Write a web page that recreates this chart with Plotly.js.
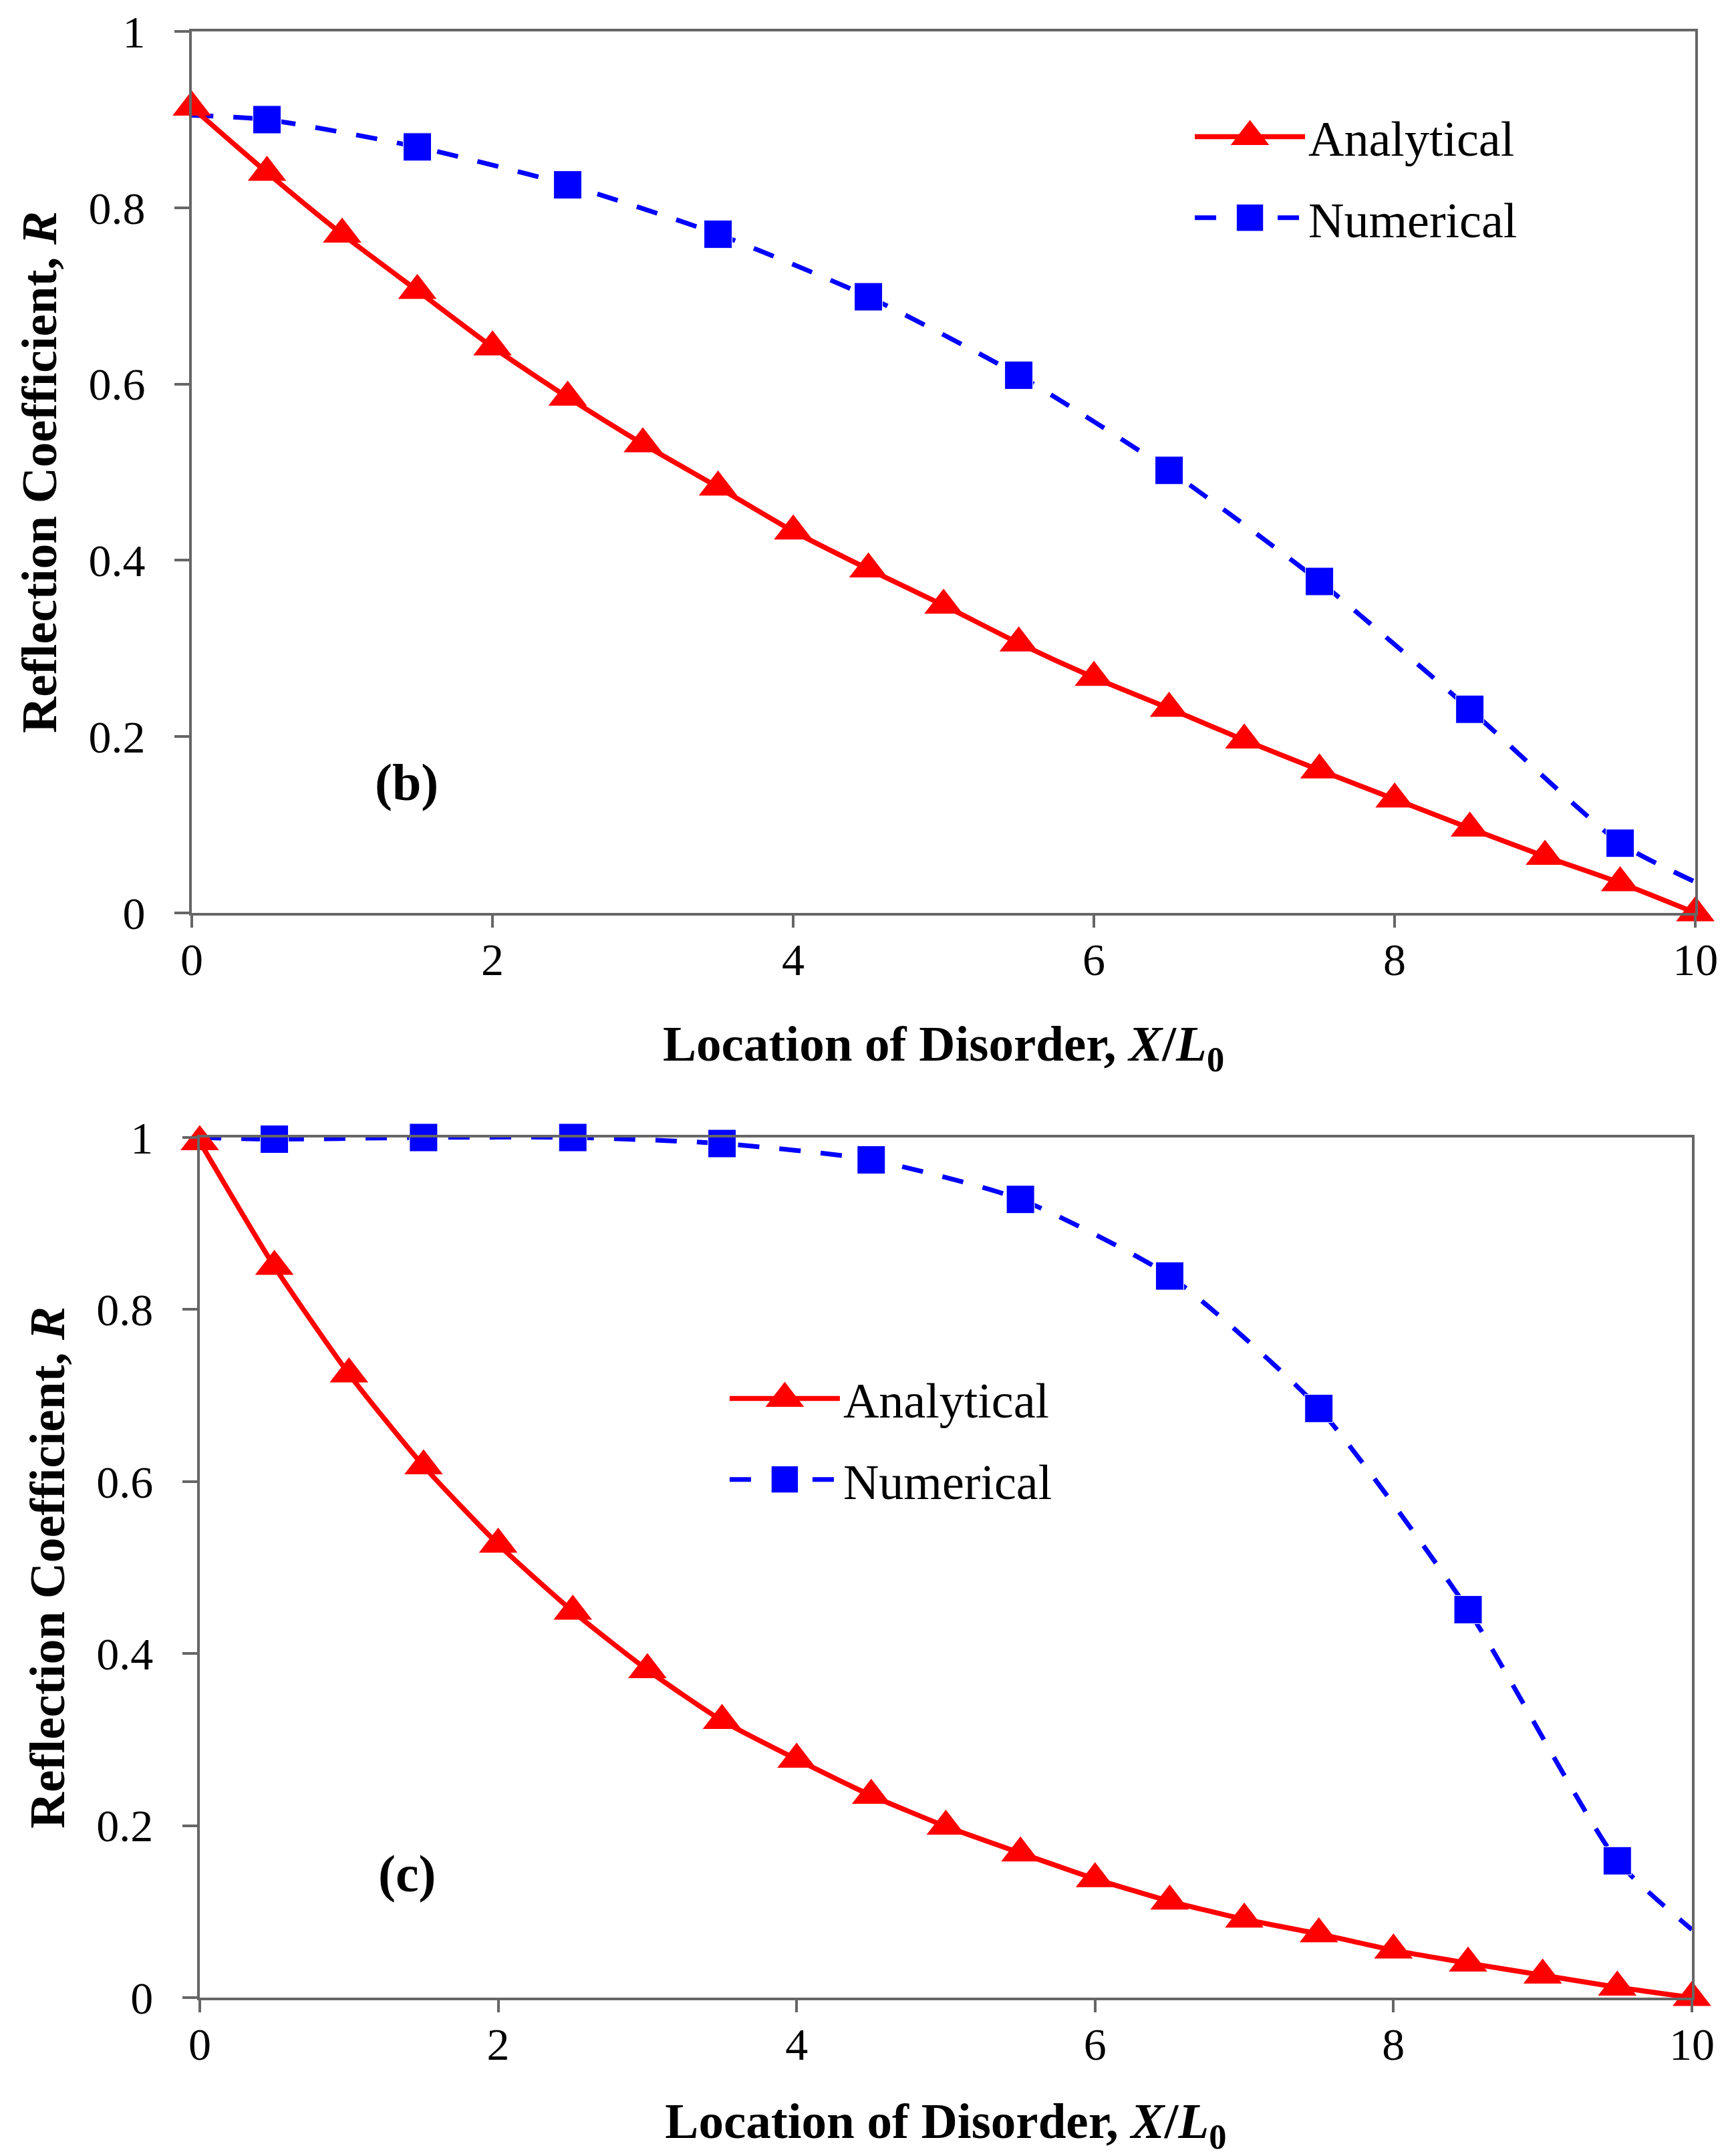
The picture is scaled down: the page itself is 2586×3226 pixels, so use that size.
<!DOCTYPE html>
<html>
<head>
<meta charset="utf-8">
<script src="https://cdn.plot.ly/plotly-3.0.1.min.js"></script>
<style>
  html, body { margin: 0; padding: 0; background: #fff; }
  #chart { width: 2586px; height: 3226px; }
</style>
</head>
<body>
<div id="chart"></div>
<script>
// x positions of the analytical curve
var x_analytical = [0, 0.5, 1, 1.5, 2, 2.5, 3, 3.5, 4, 4.5, 5, 5.5, 6, 6.5, 7, 7.5, 8, 8.5, 9, 9.5, 10];
// x positions of the numerical curve (end points carry the line only)
var x_numerical = [0, 0.5, 1.5, 2.5, 3.5, 4.5, 5.5, 6.5, 7.5, 8.5, 9.5, 10];

// panel (b)
var b_analytical = [0.914, 0.840, 0.770, 0.706, 0.642, 0.585, 0.532, 0.483, 0.433, 0.390, 0.349,
                    0.306, 0.267, 0.232, 0.196, 0.162, 0.129, 0.096, 0.064, 0.034, 0.0];
var b_numerical = [0.905, 0.900, 0.869, 0.826, 0.770, 0.699, 0.610, 0.502, 0.376, 0.231, 0.079, 0.035];

// panel (c)
var c_analytical = [0.995, 0.850, 0.725, 0.618, 0.527, 0.449, 0.381, 0.322, 0.277, 0.235, 0.199,
                    0.168, 0.138, 0.112, 0.091, 0.074, 0.055, 0.040, 0.026, 0.012, 0.0];
var c_numerical = [1.0, 0.998, 1.0, 1.0, 0.993, 0.974, 0.928, 0.839, 0.685, 0.451, 0.159, 0.079];

var x_ticks = [0, 2, 4, 6, 8, 10];
var y_ticks = [0, 0.2, 0.4, 0.6, 0.8, 1];
var series_names = ["Analytical", "Numerical"];
var panel_labels = ["(b)", "(c)"];

var serif = "Liberation Serif, Times New Roman, serif";
var tri_size = 50;
var sq_size = 42;

// squares only on the half points, not on the line end points
var sq_sizes = x_numerical.map(function(x, i){
    return (i === 0 || i === x_numerical.length - 1) ? 0 : sq_size;
});

function analyticalTrace(y, xa, ya, leg) {
    return {
        x: x_analytical, y: y, xaxis: xa, yaxis: ya,
        type: "scatter", mode: "lines+markers",
        name: series_names[0], legend: leg, legendgroup: leg + "a", legendrank: 1,
        line: {color: "#ff0000", width: 7.5, shape: "spline", smoothing: 0.6},
        marker: {symbol: "triangle-up", size: tri_size, color: "#ff0000", opacity: 1},
        cliponaxis: false
    };
}

function numericalTrace(y, xa, ya, leg) {
    return {
        x: x_numerical, y: y, xaxis: xa, yaxis: ya,
        type: "scatter", mode: "lines+markers",
        name: series_names[1], legend: leg, legendgroup: leg + "n", legendrank: 2,
        line: {color: "#0000ff", width: 7, dash: "32px,30px", shape: "spline", smoothing: 0.6},
        marker: {symbol: "square", size: sq_sizes, color: "#0000ff", opacity: 1},
        cliponaxis: false
    };
}

var data = [
    numericalTrace(b_numerical, "x", "y", "legend"),
    analyticalTrace(b_analytical, "x", "y", "legend"),
    numericalTrace(c_numerical, "x2", "y2", "legend2"),
    analyticalTrace(c_analytical, "x2", "y2", "legend2")
];

function xAxis(domain, anchor, standoff) {
    return {
        domain: domain, anchor: anchor, range: [0, 10],
        tickvals: x_ticks, ticks: "outside", ticklen: 18, tickwidth: 4, tickcolor: "#666",
        showline: true, mirror: true, linecolor: "#666", linewidth: 4,
        showgrid: false, zeroline: false,
        tickfont: {family: serif, size: 68, color: "#000"},
        ticklabelstandoff: -10,
        title: {text: "<b>Location of Disorder, <i>X</i>/<i>L</i><sub>0</sub></b>",
                font: {family: serif, size: 75, color: "#000"}, standoff: standoff}
    };
}

function yAxis(domain, anchor) {
    return {
        domain: domain, anchor: anchor, range: [0, 1],
        tickvals: y_ticks, ticks: "outside", ticklen: 22, tickwidth: 4, tickcolor: "#666",
        showline: true, mirror: true, linecolor: "#666", linewidth: 4,
        showgrid: false, zeroline: false,
        tickfont: {family: serif, size: 68, color: "#000"},
        ticklabelstandoff: 30,
        title: {text: "<b>Reflection Coefficient, <i>R</i></b>",
                font: {family: serif, size: 75, color: "#000"}, standoff: 24}
    };
}

function legendBox(x, y) {
    return {
        x: x, y: y, xanchor: "left", yanchor: "top",
        bgcolor: "rgba(0,0,0,0)", borderwidth: 0,
        font: {family: serif, size: 74, color: "#000"},
        itemwidth: 165, traceorder: "grouped", tracegroupgap: 22
    };
}

var layout = {
    width: 2586, height: 3226,
    margin: {l: 0, r: 0, t: 0, b: 0},
    paper_bgcolor: "#fff", plot_bgcolor: "#fff",
    showlegend: true,
    xaxis: xAxis([0.1110, 0.9811], "y", 62),
    yaxis: yAxis([0.5766, 0.9854], "x"),
    xaxis2: xAxis([0.1156, 0.9791], "y2", 72),
    yaxis2: yAxis([0.0735, 0.4724], "x2"),
    legend: legendBox(0.6895, 0.9535),
    legend2: legendBox(0.4203, 0.3683),
    annotations: [
        {text: "<b>" + panel_labels[0] + "</b>", x: 1.43, y: 0.148, xref: "x", yref: "y",
         showarrow: false, font: {family: serif, size: 78, color: "#000"}},
        {text: "<b>" + panel_labels[1] + "</b>", x: 1.39, y: 0.144, xref: "x2", yref: "y2",
         showarrow: false, font: {family: serif, size: 78, color: "#000"}}
    ]
};

Plotly.newPlot("chart", data, layout, {displayModeBar: false, staticPlot: true}).then(function(gd){
    // legend symbols are capped at 16px by plotly, blow them up to the plot marker size
    gd.querySelectorAll(".legendpoints path.scatterpts").forEach(function(p){
        var d = p.getAttribute("d") || "";
        var k = d.indexOf("L0") >= 0 ? tri_size / 16 : sq_size / 16;
        var t = p.getAttribute("transform") || "";
        p.setAttribute("transform", t + " scale(" + k + ")");
    });
});
</script>
</body>
</html>
